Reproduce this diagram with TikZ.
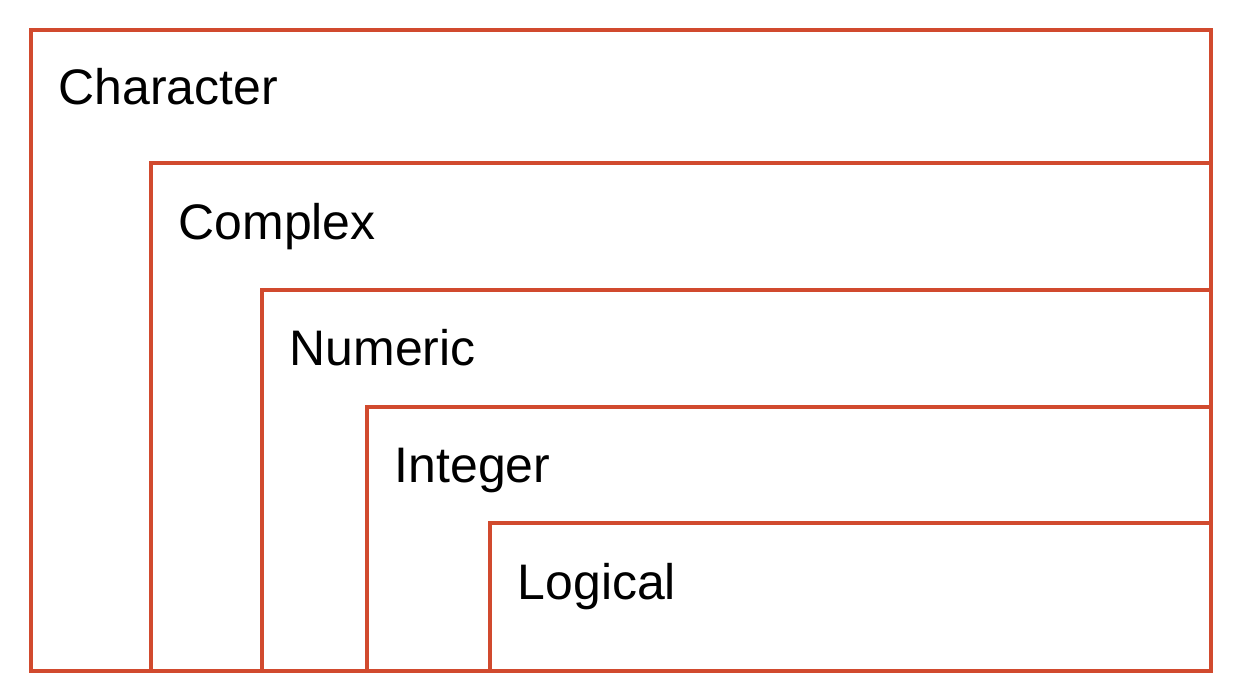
\documentclass[tikz,border=0pt]{standalone}
\usepackage{fontspec}
\setmainfont{Liberation Sans}
\definecolor{boxred}{HTML}{D14A2E}
\begin{document}
\begin{tikzpicture}[x=0.01cm, y=-0.01cm, box/.style = {draw=boxred, line width=1.35pt}, lbl/.style = {anchor=base west, inner sep=0pt, font=\fontsize{14.2}{16}\selectfont}]
\useasboundingbox (0,0) rectangle (1236,700);
\draw[box] (31,30) rectangle (1211,671);
\draw[box] (151,163) rectangle (1211,671);
\draw[box] (262,290) rectangle (1211,671);
\draw[box] (367,407) rectangle (1211,671);
\draw[box] (490,523) rectangle (1211,671);
\node[lbl] (character) at (58,104) {Character};
\node[lbl] (complex) at (178,239) {Complex};
\node[lbl] (numeric) at (289,365) {Numeric};
\node[lbl] (integer) at (394,482) {Integer};
\node[lbl] (logical) at (517,599) {Logical};
\end{tikzpicture}
\end{document}
